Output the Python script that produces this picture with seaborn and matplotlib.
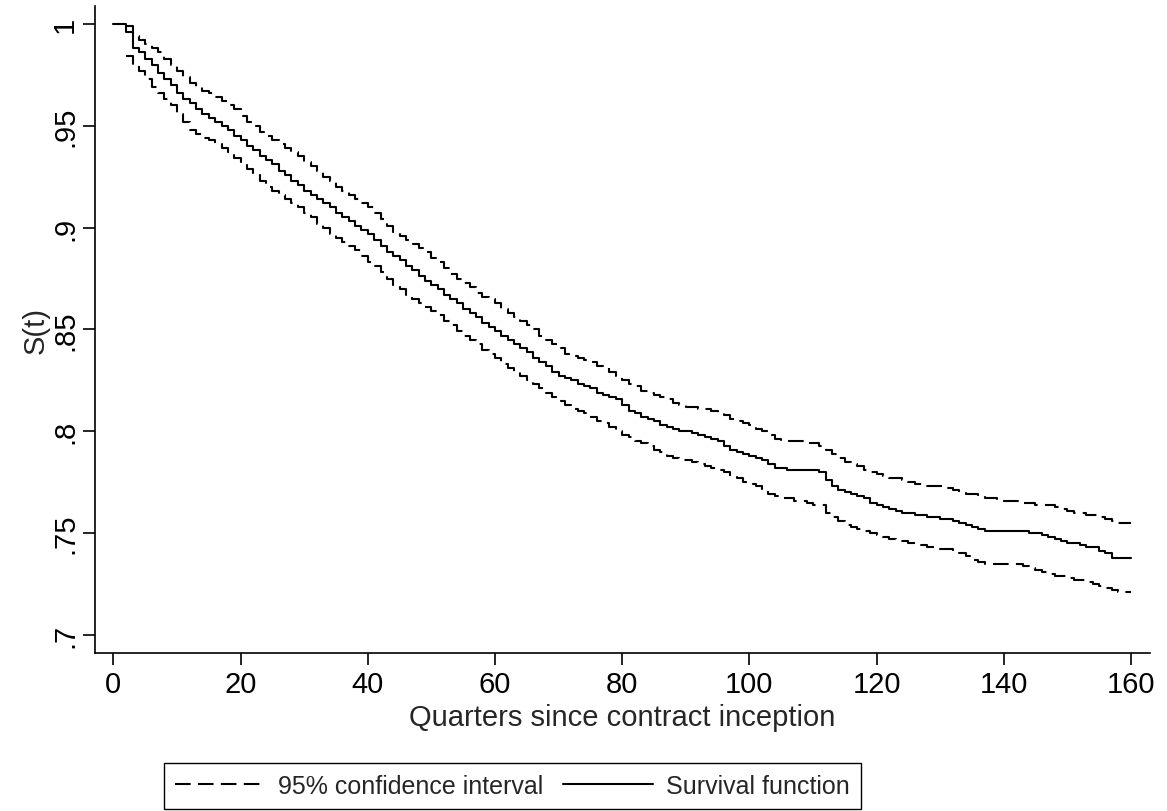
import pandas as pd
import seaborn as sns
import matplotlib.pyplot as plt

# Kaplan-Meier survival estimate, one value per quarter
quarters = list(range(0, 161))
survival = [
    1.000, 1.000, 0.996, 0.988, 0.986, 0.983, 0.980, 0.976, 0.973, 0.970,
    0.966, 0.963, 0.961, 0.958, 0.956, 0.954, 0.952, 0.950, 0.948, 0.945,
    0.943, 0.940, 0.938, 0.935, 0.933, 0.931, 0.928, 0.926, 0.923, 0.921,
    0.918, 0.916, 0.914, 0.912, 0.910, 0.907, 0.905, 0.903, 0.901, 0.899,
    0.897, 0.894, 0.891, 0.888, 0.886, 0.884, 0.881, 0.879, 0.876, 0.874,
    0.872, 0.870, 0.867, 0.865, 0.863, 0.860, 0.858, 0.856, 0.853, 0.851,
    0.849, 0.847, 0.845, 0.843, 0.841, 0.839, 0.836, 0.834, 0.832, 0.829,
    0.827, 0.826, 0.825, 0.823, 0.822, 0.821, 0.819, 0.818, 0.817, 0.816,
    0.813, 0.810, 0.809, 0.807, 0.806, 0.805, 0.803, 0.802, 0.801, 0.800,
    0.800, 0.799, 0.798, 0.797, 0.796, 0.795, 0.793, 0.791, 0.790, 0.789,
    0.788, 0.787, 0.786, 0.784, 0.782, 0.782, 0.781, 0.781, 0.781, 0.781,
    0.781, 0.780, 0.776, 0.773, 0.771, 0.770, 0.769, 0.768, 0.767, 0.765,
    0.764, 0.763, 0.762, 0.761, 0.760, 0.760, 0.759, 0.759, 0.758, 0.758,
    0.757, 0.757, 0.756, 0.755, 0.754, 0.753, 0.752, 0.751, 0.751, 0.751,
    0.751, 0.751, 0.751, 0.751, 0.750, 0.750, 0.749, 0.748, 0.747, 0.746,
    0.745, 0.745, 0.744, 0.743, 0.743, 0.741, 0.740, 0.738, 0.738, 0.738,
    0.738,
]

# 95% confidence bounds start at the first failure (quarter 2)
ci_quarters = list(range(2, 161))
ci_upper = [
    0.999, 0.994, 0.992, 0.990, 0.988, 0.986, 0.983, 0.980,
    0.977, 0.974, 0.971, 0.969, 0.967, 0.966, 0.964, 0.962, 0.960, 0.958,
    0.955, 0.952, 0.950, 0.947, 0.945, 0.943, 0.941, 0.939, 0.937, 0.935,
    0.932, 0.930, 0.928, 0.925, 0.923, 0.920, 0.918, 0.916, 0.914, 0.912,
    0.910, 0.907, 0.904, 0.901, 0.898, 0.896, 0.894, 0.892, 0.890, 0.888,
    0.885, 0.883, 0.880, 0.877, 0.875, 0.873, 0.871, 0.868, 0.866, 0.865,
    0.863, 0.860, 0.858, 0.856, 0.854, 0.852, 0.850, 0.847, 0.845, 0.843,
    0.841, 0.838, 0.837, 0.836, 0.835, 0.834, 0.832, 0.831, 0.829, 0.827,
    0.825, 0.823, 0.822, 0.820, 0.819, 0.818, 0.817, 0.816, 0.814, 0.813,
    0.812, 0.812, 0.811, 0.811, 0.810, 0.809, 0.808, 0.806, 0.805, 0.804,
    0.803, 0.801, 0.800, 0.798, 0.796, 0.795, 0.795, 0.795, 0.795, 0.794,
    0.794, 0.793, 0.791, 0.789, 0.787, 0.785, 0.784, 0.783, 0.781, 0.780,
    0.779, 0.778, 0.777, 0.777, 0.776, 0.775, 0.774, 0.774, 0.773, 0.773,
    0.773, 0.772, 0.771, 0.770, 0.769, 0.769, 0.768, 0.767, 0.767, 0.766,
    0.766, 0.766, 0.766, 0.765, 0.765, 0.764, 0.764, 0.764, 0.763, 0.762,
    0.761, 0.760, 0.760, 0.759, 0.759, 0.758, 0.757, 0.756, 0.755, 0.755,
    0.755,
]
ci_lower = [
    0.984, 0.980, 0.977, 0.973, 0.969, 0.966, 0.963, 0.960,
    0.956, 0.952, 0.948, 0.946, 0.944, 0.943, 0.941, 0.939, 0.937, 0.934,
    0.932, 0.929, 0.926, 0.923, 0.920, 0.918, 0.916, 0.914, 0.912, 0.910,
    0.907, 0.905, 0.902, 0.900, 0.897, 0.895, 0.893, 0.891, 0.889, 0.886,
    0.883, 0.881, 0.878, 0.875, 0.872, 0.870, 0.867, 0.865, 0.863, 0.861,
    0.859, 0.857, 0.854, 0.852, 0.849, 0.847, 0.845, 0.843, 0.840, 0.838,
    0.836, 0.833, 0.831, 0.829, 0.827, 0.825, 0.823, 0.821, 0.819, 0.817,
    0.815, 0.813, 0.811, 0.810, 0.809, 0.807, 0.805, 0.804, 0.802, 0.800,
    0.798, 0.797, 0.795, 0.794, 0.793, 0.791, 0.790, 0.788, 0.787, 0.786,
    0.786, 0.785, 0.784, 0.783, 0.782, 0.781, 0.780, 0.778, 0.777, 0.775,
    0.774, 0.773, 0.771, 0.769, 0.768, 0.767, 0.767, 0.766, 0.766, 0.765,
    0.764, 0.764, 0.760, 0.758, 0.756, 0.754, 0.753, 0.752, 0.751, 0.750,
    0.749, 0.748, 0.747, 0.746, 0.746, 0.745, 0.745, 0.744, 0.743, 0.743,
    0.742, 0.742, 0.741, 0.740, 0.739, 0.737, 0.736, 0.735, 0.735, 0.735,
    0.735, 0.735, 0.735, 0.734, 0.733, 0.732, 0.731, 0.730, 0.729, 0.729,
    0.728, 0.727, 0.727, 0.726, 0.725, 0.724, 0.723, 0.722, 0.721, 0.721,
    0.721,
]

yticks = [0.7, 0.75, 0.8, 0.85, 0.9, 0.95, 1.0]
ytick_labels = ['.7', '.75', '.8', '.85', '.9', '.95', '1']
xticks = [0, 20, 40, 60, 80, 100, 120, 140, 160]

sns.set_style("ticks")
plt.rcParams['font.family'] = ['Liberation Sans', 'DejaVu Sans']

fig = plt.figure(figsize=(11.67, 8.12), dpi=100)
ax = fig.add_axes([0.0814, 0.194, 0.904, 0.7974])

dash = (0, (7.5, 3.5))
sns.lineplot(x=ci_quarters, y=ci_upper, ax=ax, color='black', lw=1.5,
             drawstyle='steps-post', linestyle=dash, legend=False)
sns.lineplot(x=ci_quarters, y=ci_lower, ax=ax, color='black', lw=1.5,
             drawstyle='steps-post', linestyle=dash, legend=False)
sns.lineplot(x=quarters, y=survival, ax=ax, color='black', lw=1.5,
             drawstyle='steps-post', legend=False)

ax.set_xlim(-2.9, 163.0)
ax.set_ylim(0.6909, 1.0088)
ax.set_xticks(xticks)
ax.set_xticklabels([str(v) for v in xticks], fontsize=21)
ax.set_yticks(yticks)
ax.set_yticklabels(ytick_labels, fontsize=21, rotation=90, va='center')
ax.tick_params(direction='out', length=8.6, width=1.2, colors='black', pad=3)
ax.set_xlabel('Quarters since contract inception', fontsize=21, labelpad=4)
ax.set_ylabel('S(t)', fontsize=21, labelpad=1)

sns.despine(ax=ax)
for side in ['left', 'bottom']:
    ax.spines[side].set_linewidth(1.2)
    ax.spines[side].set_color('black')

lines = ax.get_lines()
leg = fig.legend(handles=[lines[0], lines[2]],
                 labels=['95% confidence interval', 'Survival function'],
                 loc='center', bbox_to_anchor=(0.439, 0.031), ncol=2,
                 fontsize=18, frameon=True, fancybox=False, framealpha=1,
                 edgecolor='black', handlelength=3.6, columnspacing=0.8,
                 borderpad=0.45, handletextpad=0.5)
leg.get_frame().set_linewidth(1.0)

fig.savefig('out.png', dpi=100, facecolor='white')
